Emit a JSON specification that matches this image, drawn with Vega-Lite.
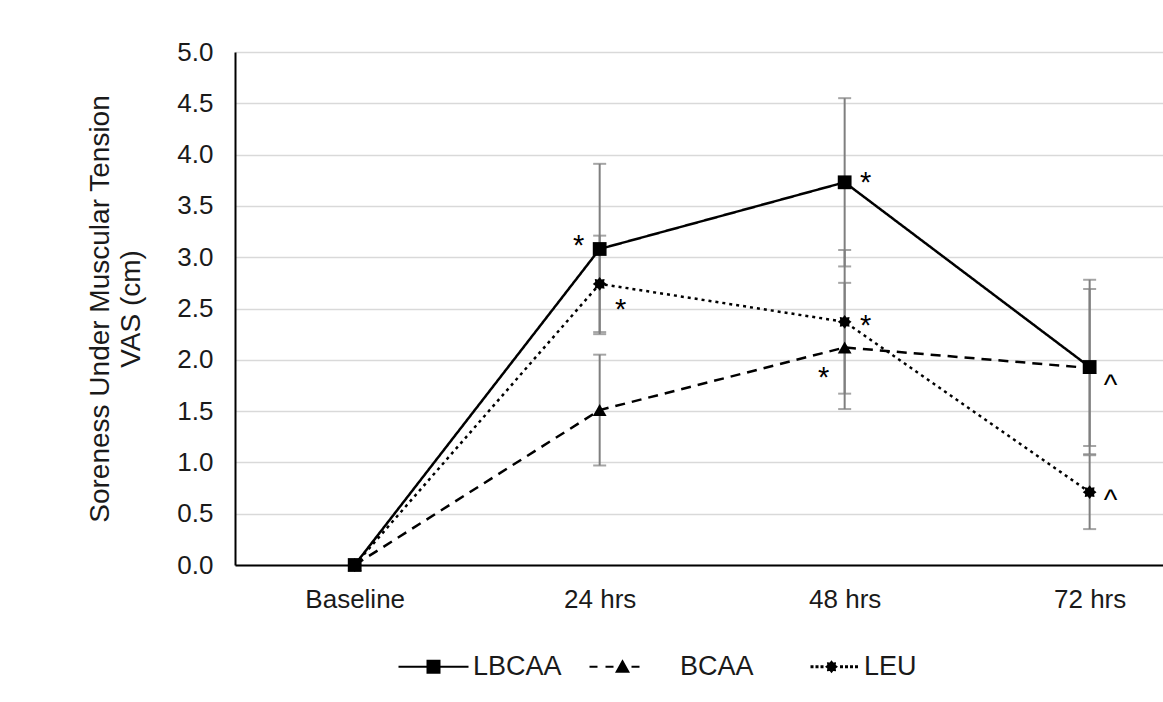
{
  "$schema": "https://vega.github.io/schema/vega-lite/v6.json",
  "width": 928,
  "height": 513,
  "autosize": {"type": "none"},
  "padding": {"left": 235, "top": 52, "right": 0, "bottom": 137},
  "background": "white",
  "config": {
    "view": {"stroke": null},
    "font": "Liberation Sans",
    "text": {"font": "Liberation Sans"}
  },
  "datasets": {
    "main": [
      {"time": "Baseline", "series": "LBCAA", "mean": 0, "lo": null, "hi": null},
      {"time": "24 hrs", "series": "LBCAA", "mean": 3.08, "lo": 2.25, "hi": 3.91},
      {"time": "48 hrs", "series": "LBCAA", "mean": 3.73, "lo": 2.91, "hi": 4.55},
      {"time": "72 hrs", "series": "LBCAA", "mean": 1.93, "lo": 1.08, "hi": 2.78},
      {"time": "Baseline", "series": "BCAA", "mean": 0, "lo": null, "hi": null},
      {"time": "24 hrs", "series": "BCAA", "mean": 1.51, "lo": 0.97, "hi": 2.05},
      {"time": "48 hrs", "series": "BCAA", "mean": 2.12, "lo": 1.52, "hi": 2.75},
      {"time": "72 hrs", "series": "BCAA", "mean": 1.92, "lo": 1.16, "hi": 2.69},
      {"time": "Baseline", "series": "LEU", "mean": 0, "lo": null, "hi": null},
      {"time": "24 hrs", "series": "LEU", "mean": 2.74, "lo": 2.27, "hi": 3.21},
      {"time": "48 hrs", "series": "LEU", "mean": 2.37, "lo": 1.67, "hi": 3.07},
      {"time": "72 hrs", "series": "LEU", "mean": 0.71, "lo": 0.35, "hi": 1.07}
    ],
    "notes": [
      {"time": "24 hrs", "side": "left", "y": 3.19, "label": "*"},
      {"time": "24 hrs", "side": "right", "y": 2.56, "label": "*"},
      {"time": "48 hrs", "side": "right", "y": 3.80, "label": "*"},
      {"time": "48 hrs", "side": "right", "y": 2.41, "label": "*"},
      {"time": "48 hrs", "side": "left", "y": 1.90, "label": "*"},
      {"time": "72 hrs", "side": "right", "y": 1.82, "label": "^"},
      {"time": "72 hrs", "side": "right", "y": 0.70, "label": "^"}
    ]
  },
  "resolve": {"scale": {"shape": "independent"}, "legend": {"shape": "independent"}},
  "encoding": {
    "x": {
      "field": "time",
      "type": "ordinal",
      "sort": ["Baseline", "24 hrs", "48 hrs", "72 hrs"],
      "scale": {"type": "point", "padding": 0.394, "align": 0.62},
      "axis": {
        "title": null,
        "labelAngle": 0,
        "labelFontSize": 26,
        "labelColor": "#1a1a1a",
        "labelPadding": 21,
        "ticks": false,
        "domainColor": "black",
        "domainWidth": 2,
        "grid": false
      }
    }
  },
  "layer": [
    {
      "data": {"name": "main"},
      "mark": {"type": "line", "color": "black", "strokeCap": "butt"},
      "encoding": {
        "y": {
          "field": "mean",
          "type": "quantitative",
          "scale": {"domain": [0, 5], "nice": false},
          "axis": {
            "title": ["Soreness Under Muscular Tension", "VAS (cm)"],
            "titleFontSize": 28,
            "titleFontWeight": "normal",
            "titleColor": "#1a1a1a",
            "titleLineHeight": 31,
            "titlePadding": 31,
            "values": [0, 0.5, 1, 1.5, 2, 2.5, 3, 3.5, 4, 4.5, 5],
            "format": ".1f",
            "labelFontSize": 26,
            "labelColor": "#1a1a1a",
            "labelPadding": 22,
            "ticks": false,
            "domainColor": "black",
            "domainWidth": 2,
            "gridColor": "#d9d9d9",
            "gridWidth": 1.5
          }
        },
        "strokeDash": {
          "field": "series",
          "type": "nominal",
          "scale": {"domain": ["LBCAA", "BCAA", "LEU"], "range": [[1, 0], [10, 7], [3, 4]]},
          "legend": null
        },
        "strokeWidth": {
          "field": "series",
          "type": "nominal",
          "scale": {"domain": ["LBCAA", "BCAA", "LEU"], "range": [2.5, 2.5, 3.2]},
          "legend": null
        },
        "detail": {"field": "series"}
      }
    },
    {
      "data": {"name": "main"},
      "transform": [{"filter": "datum.lo != null"}],
      "mark": {"type": "rule", "color": "#7f7f7f", "strokeWidth": 2},
      "encoding": {
        "y": {"field": "lo", "type": "quantitative"},
        "y2": {"field": "hi"}
      }
    },
    {
      "data": {"name": "main"},
      "transform": [{"filter": "datum.lo != null"}],
      "mark": {"type": "tick", "color": "#7f7f7f", "size": 13, "thickness": 2},
      "encoding": {"y": {"field": "lo", "type": "quantitative"}}
    },
    {
      "data": {"name": "main"},
      "transform": [{"filter": "datum.lo != null"}],
      "mark": {"type": "tick", "color": "#7f7f7f", "size": 13, "thickness": 2},
      "encoding": {"y": {"field": "hi", "type": "quantitative"}}
    },
    {
      "data": {"name": "main"},
      "mark": {"type": "point", "filled": true, "color": "black", "opacity": 1, "size": 190},
      "encoding": {
        "y": {"field": "mean", "type": "quantitative"},
        "shape": {
          "field": "series",
          "type": "nominal",
          "scale": {
            "domain": ["LBCAA", "BCAA", "LEU"],
            "range": ["square", "triangle-up", "M1,0 L0.647,0.268 L0.707,0.707 L0.268,0.647 L0,1 L-0.268,0.647 L-0.707,0.707 L-0.647,0.268 L-1,0 L-0.647,-0.268 L-0.707,-0.707 L-0.268,-0.647 L0,-1 L0.268,-0.647 L0.707,-0.707 L0.647,-0.268 Z"]
          },
          "legend": null
        }
      }
    },
    {
      "data": {"name": "main"},
      "transform": [{"filter": "datum.time === 'Baseline'"}],
      "mark": {"type": "point", "filled": true, "color": "black", "opacity": 0, "size": 100},
      "encoding": {
        "y": {"field": "mean", "type": "quantitative"},
        "shape": {
          "field": "series",
          "type": "nominal",
          "scale": {
            "domain": ["LBCAA", "BCAA", "LEU"],
            "range": [
              "M-1,-0.2H13V0.2H-1Z M4.6,-1.4H7.4V1.4H4.6Z",
              "M-4.2,-0.2H-2.6V0.2H-4.2Z M-1,-0.2H0.6V0.2H-1Z M4.2,-0.2H5.8V0.2H4.2Z M2.4,-1.5L3.9,1.2H0.9Z",
              "M3.2,-0.3h0.6v0.6h-0.6Z M4.2,-0.3h0.6v0.6h-0.6Z M5.2,-0.3h0.6v0.6h-0.6Z M9.1,-0.3h0.6v0.6h-0.6Z M10.1,-0.3h0.6v0.6h-0.6Z M11.1,-0.3h0.6v0.6h-0.6Z M12.1,-0.3h0.6v0.6h-0.6Z M8.7,0 L8.24,0.35 L8.32,0.92 L7.75,0.84 L7.4,1.3 L7.05,0.84 L6.48,0.92 L6.56,0.35 L6.1,0 L6.56,-0.35 L6.48,-0.92 L7.05,-0.84 L7.4,-1.3 L7.75,-0.84 L8.32,-0.92 L8.24,-0.35 Z"
            ]
          },
          "legend": {
            "title": null,
            "orient": "none",
            "legendX": 155,
            "legendY": 601,
            "direction": "horizontal",
            "symbolSize": 100,
            "symbolOpacity": 1,
            "symbolFillColor": "black",
            "symbolStrokeWidth": 0,
            "labelOffset": 56,
            "columnPadding": 27,
            "labelFontSize": 27,
            "labelColor": "#1a1a1a"
          }
        }
      }
    },
    {
      "data": {"name": "notes"},
      "transform": [{"filter": "datum.side === 'right'"}],
      "mark": {"type": "text", "fontSize": 29, "color": "black", "dx": 21, "dy": 8, "baseline": "middle", "align": "center"},
      "encoding": {
        "y": {"field": "y", "type": "quantitative"},
        "text": {"field": "label"}
      }
    },
    {
      "data": {"name": "notes"},
      "transform": [{"filter": "datum.side === 'left'"}],
      "mark": {"type": "text", "fontSize": 29, "color": "black", "dx": -21, "dy": 8, "baseline": "middle", "align": "center"},
      "encoding": {
        "y": {"field": "y", "type": "quantitative"},
        "text": {"field": "label"}
      }
    }
  ]
}
